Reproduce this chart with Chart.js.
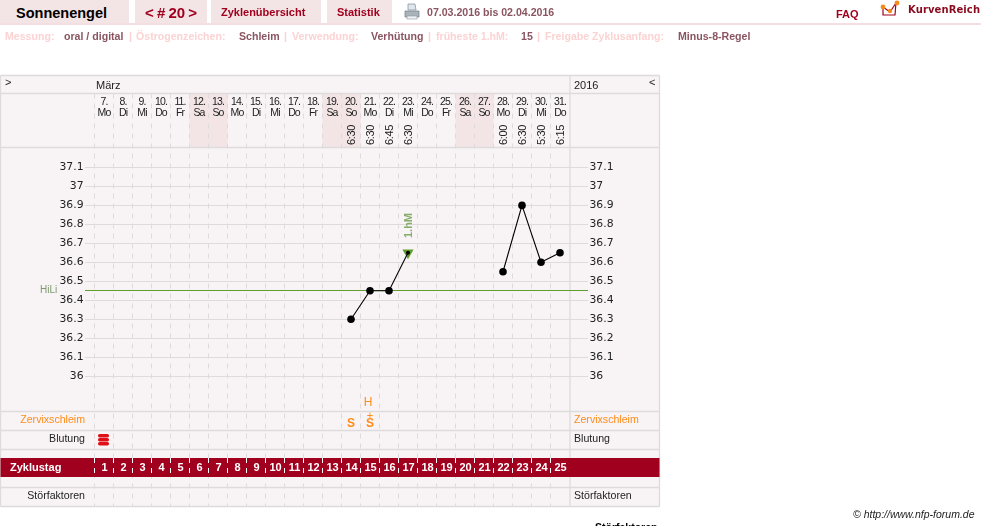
<!DOCTYPE html>
<html>
<head>
<meta charset="utf-8">
<title>Sonnenengel</title>
<script src="https://cdn.jsdelivr.net/npm/chart.js@4"></script>
<style>
  html, body { margin: 0; padding: 0; width: 981px; height: 526px; overflow: hidden; background: #fff; }
  body { font-family: "Liberation Sans", Arial, sans-serif; position: relative; }
  #myChart { position: absolute; left: 0; top: 0; }
  .abs { position: absolute; white-space: nowrap; }
  .tab { position: absolute; top: 0; height: 23px; background: #f3e4e6; }
  .rule { position: absolute; left: 0; top: 23px; width: 981px; height: 2px; background: #f3dfe1; }
  .head { font-weight: bold; color: #a0001e; }
  .info { top: 30px; font-size: 10.6px; line-height: 13px; font-weight: bold; }
  .lab { color: #fbd3d3; }
  .val { color: #8a5560; }
</style>
</head>
<body>
<canvas id="myChart" width="981" height="526"></canvas>

<div class="tab" style="left:0;width:129px"></div>
<div class="tab" style="left:135px;width:72px"></div>
<div class="tab" style="left:211px;width:110px"></div>
<div class="tab" style="left:327px;width:65px"></div>
<div class="rule"></div>

<div class="abs" style="left:16px;top:5px;font-size:14.5px;font-weight:bold;color:#000">Sonnenengel</div>
<div class="abs head" style="left:145px;top:4px;font-size:15px;word-spacing:-1px">&lt; # 20 &gt;</div>
<div class="abs head" style="left:221px;top:6px;font-size:11px">Zyklenübersicht</div>
<div class="abs head" style="left:337px;top:6px;font-size:11px">Statistik</div>
<svg class="abs" style="left:404px;top:3px" width="16" height="17" viewBox="0 0 16 17">
  <path d="M4 1h7l1 6H4z" fill="#dfe6ee" stroke="#8b97a3" stroke-width=".8"/>
  <path d="M1 8h14v6H1z" fill="#aab2ba" stroke="#7d858d" stroke-width=".8"/>
  <path d="M3 13h10v3H3z" fill="#eef1f4" stroke="#8b97a3" stroke-width=".6"/>
</svg>
<div class="abs val" style="left:427px;top:6px;font-size:10.6px;font-weight:bold">07.03.2016 bis 02.04.2016</div>
<div class="abs head" style="left:836px;top:8px;font-size:11px">FAQ</div>
<svg class="abs" style="left:880px;top:0" width="24" height="20" viewBox="0 0 24 20">
  <path d="M3 7v8h12l1-13" fill="none" stroke="#a0001e" stroke-width="1.2"/>
  <path d="M3 7l7 5 6-9" fill="none" stroke="#a0001e" stroke-width="1.2"/>
  <circle cx="3" cy="7" r="2.4" fill="#f28c1e"/><circle cx="10" cy="11" r="2.2" fill="#f28c1e"/><circle cx="17" cy="3" r="2.4" fill="#f28c1e"/>
</svg>
<div class="abs" style="left:908px;top:4px;font:bold 10px 'DejaVu Sans';color:#8c0a1e;letter-spacing:.1px">KurvenReich</div>

<div class="abs info lab" style="left:5px">Messung:</div>
<div class="abs info val" style="left:64px">oral / digital</div>
<div class="abs info lab" style="left:129px">|</div>
<div class="abs info lab" style="left:136px">Östrogenzeichen:</div>
<div class="abs info val" style="left:239px">Schleim</div>
<div class="abs info lab" style="left:284px">|</div>
<div class="abs info lab" style="left:292px">Verwendung:</div>
<div class="abs info val" style="left:371px">Verhütung</div>
<div class="abs info lab" style="left:428px">|</div>
<div class="abs info lab" style="left:436px">früheste 1.hM:</div>
<div class="abs info val" style="left:521px">15</div>
<div class="abs info lab" style="left:537px">|</div>
<div class="abs info lab" style="left:545px">Freigabe Zyklusanfang:</div>
<div class="abs info val" style="left:678px">Minus-8-Regel</div>

<div class="abs" style="left:853px;top:508px;font-size:10.5px;font-style:italic;color:#222">© http://www.nfp-forum.de</div>
<div class="abs" style="left:595px;top:521px;font-size:10.5px;font-weight:bold;color:#000">Störfaktoren</div>

<script>
const dayNumbers = ["7.","8.","9.","10.","11.","12.","13.","14.","15.","16.","17.","18.","19.","20.","21.","22.","23.","24.","25.","26.","27.","28.","29.","30.","31."];
const weekdays = ["Mo","Di","Mi","Do","Fr","Sa","So","Mo","Di","Mi","Do","Fr","Sa","So","Mo","Di","Mi","Do","Fr","Sa","So","Mo","Di","Mi","Do"];
const cycleDays = [1,2,3,4,5,6,7,8,9,10,11,12,13,14,15,16,17,18,19,20,21,22,23,24,25];
const measureTimes = [null,null,null,null,null,null,null,null,null,null,null,null,null,"6:30","6:30","6:45","6:30",null,null,null,null,"6:00","6:30","5:30","6:15"];
const temperatures = [null,null,null,null,null,null,null,null,null,null,null,null,null,36.3,36.45,36.45,36.65,null,null,null,null,36.55,36.9,36.6,36.65];
const firstHighMark = [null,null,null,null,null,null,null,null,null,null,null,null,null,null,null,null,36.65,null,null,null,null,null,null,null,null];
const yTicks = [37.1,37,36.9,36.8,36.7,36.6,36.5,36.4,36.3,36.2,36.1,36];
const coverLine = 36.45;
const weekendDays = ["Sa","So"];
const firstHighDay = 17;
const bleedingDays = [1];
const mucusMarks = [{day:14,text:"S"},{day:15,text:"S"}];
const mucusPlusDays = [15];
const feelingMarks = [{day:15,text:"H"}];

const PANEL_BG = "#f8f3f4", LINE = "#dddbdb", CRIMSON = "#a0001e", ORANGE = "#ff8c1a", GREEN = "#5f9e2c";
// rows of the table around the plot, in page pixels
const TOP = 75.5, ROW_MONTH = 93.5, ROW_HEAD = 147.5, ROW_MUCUS = 411.5, ROW_BLOOD = 430.5, ROW_GAP = 449.5,
      BAND_TOP = 458, BAND_BOTTOM = 477, ROW_STOER = 487.5, BOTTOM = 506.5, LEFT = 0.5, RIGHT = 659.5;

const tablePlugin = {
  id: "table",
  beforeDraw(chart) {
    const ctx = chart.ctx, a = chart.chartArea, x = chart.scales.x, colW = x.width / dayNumbers.length;
    const columnPixel = (i) => Math.round(x.getPixelForValue(i) - colW / 2 - 0.5) + 0.5;
    ctx.save();
    ctx.fillStyle = PANEL_BG;
    ctx.fillRect(LEFT, TOP, RIGHT - LEFT, BOTTOM - TOP);
    // weekends are only shaded in the head row
    ctx.fillStyle = "#f3e4e6";
    weekdays.forEach((w, i) => {
      if (weekendDays.includes(w)) ctx.fillRect(x.getPixelForValue(i) - colW / 2, ROW_MONTH, colW, ROW_HEAD - ROW_MONTH);
    });

    // dashed day columns
    ctx.lineWidth = 1;
    ctx.strokeStyle = LINE;
    ctx.setLineDash([5, 5]);
    for (let i = 0; i < dayNumbers.length; i++) {
      ctx.beginPath(); ctx.moveTo(columnPixel(i), ROW_MONTH); ctx.lineTo(columnPixel(i), BOTTOM); ctx.stroke();
    }
    ctx.setLineDash([]);

    // horizontal lines reach past the plot on both sides
    yTicks.forEach(v => {
      const py = Math.round(chart.scales.y.getPixelForValue(v) - 0.5) + 0.5;
      ctx.beginPath(); ctx.moveTo(85, py); ctx.lineTo(588, py); ctx.stroke();
    });
    ctx.lineWidth = 1.3;
    [TOP, ROW_MONTH, ROW_HEAD, ROW_MUCUS, ROW_BLOOD, ROW_GAP, ROW_STOER, BOTTOM].forEach(py => {
      ctx.beginPath(); ctx.moveTo(LEFT, py); ctx.lineTo(RIGHT, py); ctx.stroke();
    });
    [LEFT, a.right + 0.5, RIGHT].forEach(px => {
      ctx.beginPath(); ctx.moveTo(px, TOP); ctx.lineTo(px, BOTTOM); ctx.stroke();
    });

    // cover line
    const hy = Math.round(chart.scales.y.getPixelForValue(coverLine) - 0.5) + 0.5;
    ctx.strokeStyle = GREEN;
    ctx.lineWidth = 1;
    ctx.beginPath(); ctx.moveTo(85, hy); ctx.lineTo(588, hy); ctx.stroke();

    // the band goes over the frame lines, with its own white dashes
    ctx.fillStyle = CRIMSON;
    ctx.fillRect(LEFT, BAND_TOP, RIGHT - LEFT, BAND_BOTTOM - BAND_TOP);
    ctx.strokeStyle = "#fff";
    ctx.setLineDash([5, 5]);
    for (let i = 0; i < dayNumbers.length; i++) {
      ctx.beginPath(); ctx.moveTo(columnPixel(i), BAND_TOP); ctx.lineTo(columnPixel(i), BAND_BOTTOM); ctx.stroke();
    }
    ctx.restore();

    // squeezes the day labels of the x axis, taken off again before the y ticks
    ctx.letterSpacing = "-0.9px";
  },
  beforeDatasetsDraw(chart) {
    chart.ctx.letterSpacing = "0px";
  },
  afterDraw(chart) {
    const ctx = chart.ctx, x = chart.scales.x, y = chart.scales.y;
    const arial = '"Liberation Sans", Arial, sans-serif';
    ctx.save();
    ctx.textBaseline = "middle";

    // month row
    ctx.font = "11px " + arial;
    ctx.fillStyle = "#222";
    ctx.textAlign = "left";
    ctx.fillText(">", 5, 83);
    ctx.fillText("März", 96, 85.5);
    ctx.fillText("2016", 574, 85.5);
    ctx.fillText("<", 649, 83);

    // row titles
    ctx.font = "10.6px " + arial;
    const rows = [["Zervixschleim", 420.5, ORANGE], ["Blutung", 439.5, "#222"], ["Störfaktoren", 496.5, "#222"]];
    rows.forEach(([t, py, c]) => {
      ctx.fillStyle = c;
      ctx.textAlign = "right"; ctx.fillText(t, 85, py);
      ctx.textAlign = "left"; ctx.fillText(t, 574, py);
    });

    // cycle day band
    ctx.fillStyle = "#fff";
    ctx.font = "bold 11px " + arial;
    ctx.textAlign = "left";
    ctx.fillText("Zyklustag", 10, 468);
    ctx.textAlign = "center";
    cycleDays.forEach((d, i) => ctx.fillText(String(d), x.getPixelForValue(i) + 0.5, 468));

    // measuring times, written upwards
    ctx.fillStyle = "#222";
    ctx.font = "11px " + arial;
    ctx.letterSpacing = "-0.4px";
    measureTimes.forEach((t, i) => {
      if (!t) return;
      ctx.save();
      ctx.translate(x.getPixelForValue(i) + 1, 135);
      ctx.rotate(-Math.PI / 2);
      ctx.fillText(t, 0, 0);
      ctx.restore();
    });
    ctx.letterSpacing = "0px";

    // mucus and feeling marks
    ctx.fillStyle = ORANGE;
    ctx.font = "bold 12px " + arial;
    mucusMarks.forEach(m => ctx.fillText(m.text, x.getPixelForValue(m.day - 1), 423.5));
    ctx.font = "11px " + arial;
    mucusPlusDays.forEach(d => ctx.fillText("+", x.getPixelForValue(d - 1), 415.5));
    ctx.font = "12px " + arial;
    feelingMarks.forEach(m => ctx.fillText(m.text, x.getPixelForValue(m.day - 1) - 2, 402.5));

    // bleeding bars
    ctx.fillStyle = "#e01018";
    bleedingDays.forEach(d => {
      const cx = x.getPixelForValue(d - 1) - 0.5;
      [434, 438, 442].forEach(py => {
        ctx.beginPath();
        ctx.roundRect(cx - 5.5, py, 11, 3.4, 1.6);
        ctx.fill();
      });
    });

    // cover line name
    ctx.font = "10px " + arial;
    ctx.textAlign = "left";
    ctx.fillStyle = "#7f9a70";
    ctx.fillText("HiLi", 40, y.getPixelForValue(coverLine) - 0.5);

    // first high mark
    ctx.save();
    ctx.translate(x.getPixelForValue(firstHighDay - 1) + 1, 225.5);
    ctx.rotate(-Math.PI / 2);
    ctx.font = "bold 11px " + arial;
    ctx.fillStyle = "#86ad6b";
    ctx.textAlign = "center";
    ctx.fillText("1.hM", 0, 0);
    ctx.restore();
    ctx.restore();
  }
};

new Chart("myChart", {
  type: "line",
  plugins: [tablePlugin],
  data: {
    labels: dayNumbers.map((d, i) => [d, weekdays[i]]),
    datasets: [
      {
        label: "Temperatur",
        data: temperatures,
        borderColor: "#000",
        backgroundColor: "#000",
        borderWidth: 1.1,
        tension: 0,
        spanGaps: false,
        pointRadius: temperatures.map((v, i) => (i === firstHighDay - 1 ? 2 : 3.8)),
        pointBorderWidth: 0,
        yAxisID: "y"
      },
      {
        label: "1.hM",
        data: firstHighMark,
        showLine: false,
        pointStyle: "triangle",
        rotation: 180,
        pointRadius: 6.5,
        pointBorderWidth: 0,
        backgroundColor: GREEN,
        borderColor: GREEN,
        yAxisID: "y"
      }
    ]
  },
  options: {
    responsive: false,
    animation: false,
    events: [],
    layout: { padding: { left: 0, top: 75, right: 321, bottom: 114.5 } },
    plugins: { legend: { display: false }, tooltip: { enabled: false } },
    scales: {
      x: {
        position: "top",
        offset: true,
        afterFit: (s) => { s.height = 72.5; },
        grid: { display: false, drawTicks: false },
        border: { display: false },
        ticks: {
          autoSkip: false,
          maxRotation: 0,
          minRotation: 0,
          padding: 29,
          color: "#222",
          font: { family: '"Liberation Sans", Arial, sans-serif', size: 10.5, lineHeight: 1.02 }
        }
      },
      y: {
        position: "left",
        min: 35.8132,
        max: 37.2053,
        afterFit: (s) => { s.width = 94.5; },
        afterBuildTicks: (s) => { s.ticks = yTicks.map(value => ({ value })); },
        grid: { display: false, drawTicks: false },
        border: { display: false },
        ticks: {
          z: 1,
          padding: 11,
          color: "#222",
          font: { family: '"DejaVu Sans"', size: 10.8 },
          callback: (v) => String(v)
        }
      },
      y2: {
        position: "right",
        min: 35.8132,
        max: 37.2053,
        afterFit: (s) => { s.width = 90.5; },
        afterBuildTicks: (s) => { s.ticks = yTicks.map(value => ({ value })); },
        grid: { display: false, drawTicks: false },
        border: { display: false },
        ticks: {
          z: 1,
          padding: 20,
          color: "#222",
          font: { family: '"DejaVu Sans"', size: 10.8 },
          callback: (v) => String(v)
        }
      }
    }
  }
});
</script>
</body>
</html>
